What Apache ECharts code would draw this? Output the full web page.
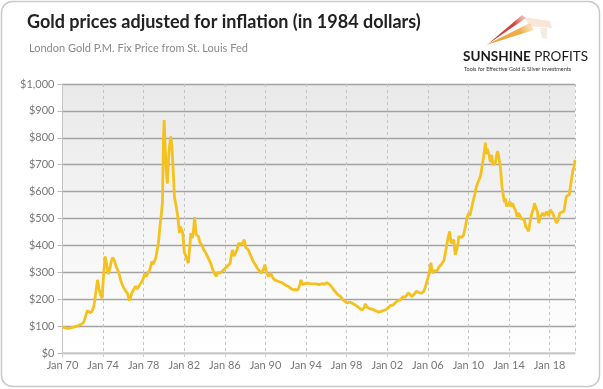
<!DOCTYPE html>
<html>
<head>
<meta charset="utf-8">
<script src="https://cdn.jsdelivr.net/npm/echarts@6/dist/echarts.min.js"></script>
<style>
html,body{margin:0;padding:0;background:#fff;}
#c{width:603px;height:389px;}
</style>
</head>
<body>
<div id="c"></div>
<script>
// Decimal years (time of observation)
const years = [
1970.00,1970.30,1970.60,1970.90,1971.30,1971.60,1971.90,1972.10,1972.30,1972.45,1972.70,1972.90,
1973.10,1973.30,1973.45,1973.60,1973.75,1973.90,1974.05,1974.20,1974.35,1974.50,1974.65,1974.80,1974.95,
1975.10,1975.30,1975.50,1975.60,1975.80,1976.00,1976.20,1976.40,1976.58,1976.70,1976.85,
1977.00,1977.20,1977.35,1977.50,1977.70,1977.90,1978.10,1978.25,1978.40,1978.60,1978.80,1978.95,
1979.20,1979.45,1979.60,1979.75,1979.85,1979.95,1980.02,1980.12,1980.22,1980.34,1980.45,1980.55,1980.67,1980.78,1980.88,
1981.03,1981.20,1981.36,1981.52,1981.62,1981.72,1981.85,1982.00,1982.20,1982.40,1982.55,1982.65,1982.80,1982.92,
1983.02,1983.10,1983.18,1983.40,1983.55,1983.73,1983.90,1984.05,1984.20,1984.40,1984.60,1984.80,
1985.00,1985.15,1985.30,1985.50,1985.70,1985.90,1986.10,1986.30,1986.50,1986.65,1986.75,1986.90,
1987.05,1987.20,1987.35,1987.60,1987.80,1987.92,1988.05,1988.30,1988.55,1988.80,1989.00,1989.20,1989.40,1989.55,1989.80,1989.95,
1990.10,1990.30,1990.50,1990.80,1991.00,1991.30,1991.60,1991.80,1992.00,1992.27,1992.50,1992.76,
1993.00,1993.20,1993.40,1993.50,1993.65,1993.90,1994.10,1994.40,1994.70,1995.00,1995.30,1995.60,1995.80,
1996.05,1996.30,1996.50,1996.70,1996.87,1997.10,1997.40,1997.60,1997.86,1998.10,1998.30,1998.50,1998.85,
1999.10,1999.30,1999.50,1999.75,1999.83,2000.00,2000.20,2000.65,2000.90,2001.15,2001.40,2001.64,2001.90,
2002.10,2002.30,2002.60,2002.96,2003.10,2003.30,2003.60,2003.80,2004.05,2004.25,2004.43,2004.70,2004.86,
2005.10,2005.35,2005.60,2005.80,2005.95,2006.10,2006.30,2006.45,2006.60,2006.75,2006.90,
2007.10,2007.30,2007.45,2007.60,2007.72,2007.90,2008.00,2008.15,2008.30,2008.42,2008.55,2008.70,2008.87,2008.95,
2009.05,2009.20,2009.35,2009.53,2009.70,2009.85,2010.00,2010.15,2010.30,2010.45,2010.65,2010.80,2010.90,
2011.05,2011.20,2011.34,2011.50,2011.60,2011.67,2011.75,2011.85,2011.95,2012.05,2012.16,2012.30,2012.40,2012.52,2012.65,2012.80,2012.88,
2013.00,2013.15,2013.30,2013.45,2013.55,2013.65,2013.75,2013.85,2014.00,2014.10,2014.20,2014.35,2014.50,2014.65,2014.80,2014.95,
2015.05,2015.20,2015.35,2015.50,2015.65,2015.80,2015.93,2016.10,2016.25,2016.40,2016.50,2016.65,2016.80,2016.92,
2017.10,2017.30,2017.50,2017.70,2017.90,2018.05,2018.15,2018.30,2018.50,2018.67,2018.85,
2019.00,2019.20,2019.40,2019.55,2019.65,2019.80,2019.95,2020.05,2020.20,2020.30,2020.40,2020.50
];
// Inflation-adjusted price (1984 dollars)
const prices = [
97,93,91,94,98,103,108,115,140,158,150,154,
175,230,272,240,215,204,290,359,330,294,310,340,355,
345,320,303,290,262,245,232,222,195,205,225,
232,248,238,242,258,270,295,284,280,310,340,330,
355,408,470,520,560,800,866,760,680,630,720,770,805,770,700,
580,545,507,446,470,470,446,375,355,334,400,446,427,460,
505,470,440,433,410,402,385,377,384,350,334,310,
295,284,300,297,303,310,318,325,332,365,384,360,
372,384,408,405,412,421,392,384,362,340,328,315,305,297,310,328,
300,284,297,275,270,266,262,257,252,247,240,235,
236,235,255,272,254,258,260,258,257,257,254,258,255,
262,255,247,236,229,218,210,200,190,186,190,186,178,
172,166,160,170,183,170,166,161,156,152,155,158,162,
168,176,179,192,190,198,210,208,223,218,210,220,229,
225,222,229,250,272,290,336,297,305,309,305,
320,328,322,345,371,410,430,452,408,415,421,365,359,400,
433,427,430,439,470,500,520,510,538,563,594,620,631,
644,660,693,730,760,782,740,760,755,735,710,736,700,695,706,740,750,
725,690,620,582,560,575,545,540,555,563,545,557,540,530,507,520,
526,500,501,495,470,462,452,495,520,535,557,540,526,483,
507,520,510,526,510,532,530,520,500,483,495,
520,524,526,560,582,588,590,619,656,680,690,718
];
const baseYear = 1970;
const yMin = 0, yMax = 1000, yStep = 100;
const xMax = 50.5, xStep = 4;
const title = 'Gold prices adjusted for inflation (in 1984 dollars)';
const subtitle = 'London Gold P.M. Fix Price from St. Louis Fed';

const seriesData = years.map((y, i) => [y - baseYear, prices[i]]);

const chart = echarts.init(document.getElementById('c'), null, {renderer: 'canvas'});
const FONT = 'Lato, "Open Sans", sans-serif';

chart.setOption({
  animation: false,
  backgroundColor: '#ffffff',
  title: [{
    text: title,
    left: 22, top: 8,
    textStyle: {fontFamily: FONT, fontWeight: 'bold', fontSize: 18, color: '#222'}
  }, {
    text: subtitle,
    left: 24, top: 38,
    textStyle: {fontFamily: FONT, fontWeight: 'normal', fontSize: 11, color: '#8a8a8a'}
  }],
  grid: {
    left: 62.5, right: 28, top: 84, bottom: 36,
    show: true, borderWidth: 0,
    backgroundColor: {
      type: 'linear', x: 0, y: 0, x2: 0, y2: 1,
      colorStops: [{offset: 0, color: '#e9e9e9'}, {offset: 1, color: '#ffffff'}]
    }
  },
  xAxis: {
    type: 'value', min: 0, max: xMax, interval: xStep,
    axisLine: {show: true, lineStyle: {color: '#cfcfcf', width: 1.5}},
    axisTick: {show: true, length: 4, lineStyle: {color: '#cfcfcf'}},
    axisLabel: {
      showMaxLabel: false, margin: 7,
      fontFamily: FONT, fontSize: 11, color: '#777',
      formatter: v => 'Jan ' + String((baseYear + v) % 100).padStart(2, '0')
    },
    splitLine: {show: true, lineStyle: {color: '#c4c4c4', type: [3, 3], width: 1}}
  },
  yAxis: {
    type: 'value', min: yMin, max: yMax, interval: yStep,
    axisLine: {show: true, lineStyle: {color: '#c4c4c4', width: 1}},
    axisTick: {show: true, length: 5, lineStyle: {color: '#bcbcbc'}},
    axisLabel: {
      margin: 8, fontFamily: FONT, fontSize: 11, color: '#777',
      formatter: v => '$' + v.toLocaleString('en-US')
    },
    splitLine: {show: true, lineStyle: {color: '#a3a3a3', width: 1.3}}
  },
  series: [{
    type: 'line',
    data: seriesData,
    showSymbol: false,
    lineStyle: {color: '#F4C11F', width: 2.8},
    z: 5
  }],
  graphic: [
    {type: 'rect', shape: {x: 1.5, y: 1.5, width: 598, height: 385, r: 11},
     style: {fill: 'none', stroke: '#c9c9c9', lineWidth: 1.5}, silent: true, z: 100},
    {type: 'polygon', shape: {points: [[488, 44], [522, 15], [526, 18]]},
     style: {fill: {type: 'linear', x: 0, y: 1, x2: 1, y2: 0,
       colorStops: [{offset: 0, color: '#c9302c'}, {offset: 0.7, color: '#d9463a'}, {offset: 1, color: 'rgba(230,120,100,0.3)'}]}}, z: 100},
    {type: 'polygon', shape: {points: [[486, 45], [530, 23], [534, 30]]},
     style: {fill: {type: 'linear', x: 0, y: 1, x2: 1, y2: 0,
       colorStops: [{offset: 0, color: '#e59a2a'}, {offset: 0.7, color: '#f0b04a'}, {offset: 1, color: 'rgba(245,200,120,0.3)'}]}}, z: 100},
    {type: 'polygon', shape: {points: [[524, 17], [550, 21], [552, 28], [530, 26]]},
     style: {fill: 'rgba(240,180,150,0.35)'}, z: 99},
    {type: 'polygon', shape: {points: [[540, 28], [547, 28], [547, 39], [542, 38]]},
     style: {fill: 'rgba(220,200,170,0.35)'}, z: 99},
    {type: 'text', left: 463, top: 50,
     style: {text: '{b|SUNSHINE} {n|PROFITS}',
       rich: {b: {fontFamily: FONT, fontWeight: 'bold', fontSize: 13.5, fill: '#1a1a1a'},
              n: {fontFamily: FONT, fontWeight: 'normal', fontSize: 13.5, fill: '#1a1a1a'}}}, z: 100},
    {type: 'text', left: 464, top: 66,
     style: {text: 'Tools for Effective Gold & Silver Investments', fontFamily: FONT, fontSize: 5.5, fill: '#333'}, z: 100}
  ]
});
</script>
</body>
</html>
